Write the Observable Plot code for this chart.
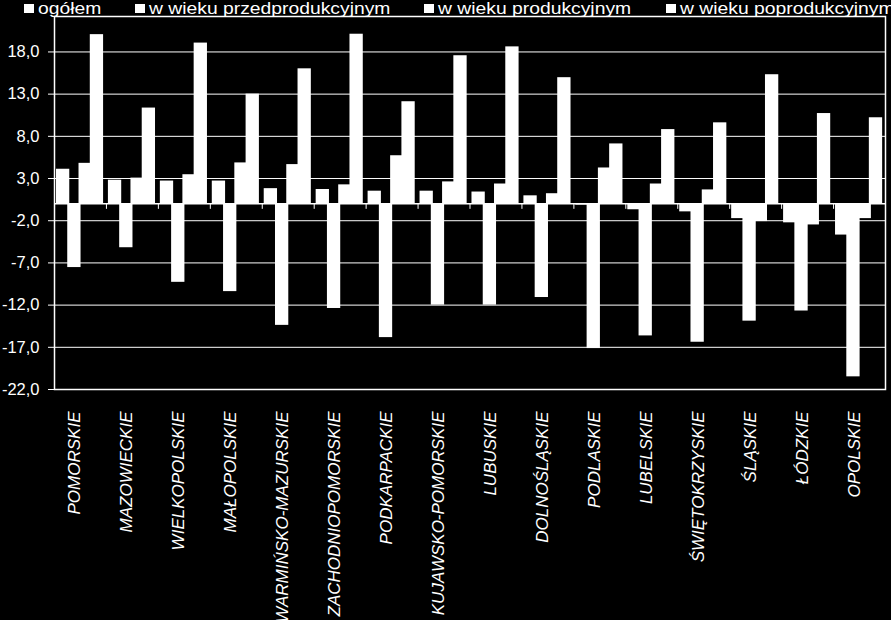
<!DOCTYPE html>
<html>
<head>
<meta charset="utf-8">
<script src="https://cdn.jsdelivr.net/npm/d3@7"></script>
<script src="https://cdn.jsdelivr.net/npm/@observablehq/plot@0.6"></script>
<style>
  html, body { margin: 0; padding: 0; background: #000; }
  #wrap { position: relative; width: 891px; height: 620px; background: #000; overflow: hidden; font-family: "Liberation Sans", Arial, sans-serif; }
  #legend { position: absolute; left: 0; top: 0; width: 891px; height: 18px; }
  .item { position: absolute; top: 0; height: 18px; color: #fff; white-space: nowrap; }
  .sw { position: absolute; top: 4px; width: 10px; height: 9px; background: #fff; }
  .lab { position: absolute; top: 0; left: 14px; font-size: 16.5px; line-height: 16px; transform: scaleX(1.17); transform-origin: left center; }
  #chart { position: absolute; left: 0; top: 0; }
</style>
</head>
<body>
<div id="wrap">
  <div id="chart"></div>
  <div id="legend"></div>
</div>
<script>
const regions = ["POMORSKIE","MAZOWIECKIE","WIELKOPOLSKIE","MAŁOPOLSKIE","WARMIŃSKO-MAZURSKIE","ZACHODNIOPOMORSKIE","PODKARPACKIE","KUJAWSKO-POMORSKIE","LUBUSKIE","DOLNOŚLĄSKIE","PODLASKIE","LUBELSKIE","ŚWIĘTOKRZYSKIE","ŚLĄSKIE","ŁÓDZKIE","OPOLSKIE"];
const seriesNames = ["ogółem","w wieku przedprodukcyjnym","w wieku produkcyjnym","w wieku poprodukcyjnym"];
const ogolem = [4.1, 2.8, 2.7, 2.7, 1.8, 1.7, 1.5, 1.5, 1.4, 0.95, -0.15, -0.7, -0.95, -1.75, -2.25, -3.7];
const przedprodukcyjny = [-7.55, -5.2, -9.3, -10.4, -14.4, -12.4, -15.85, -12.0, -12.0, -11.1, -17.15, -15.65, -16.4, -13.9, -12.7, -20.5];
const produkcyjny = [4.8, 3.05, 3.45, 4.85, 4.65, 2.25, 5.7, 2.6, 2.35, 1.2, 4.25, 2.35, 1.65, -2.1, -2.5, -1.75];
const poprodukcyjny = [20.05, 11.35, 19.05, 13.0, 16.0, 20.1, 12.1, 17.55, 18.6, 14.95, 7.1, 8.8, 9.6, 15.3, 10.7, 10.2];
const yTicks = [-22, -17, -12, -7, -2, 3, 8, 13, 18];

const seriesValues = [ogolem, przedprodukcyjny, produkcyjny, poprodukcyjny];
const data = [];
regions.forEach((r, i) => {
  seriesValues.forEach((vals, j) => {
    data.push({region: r, i, j, series: seriesNames[j], value: vals[i]});
  });
});

// layout constants within each group (group width = 1 unit on x)
const OFFSET = 0.038, STEP = 0.217, WIDTH = 0.256;
const boundaries = d3.range(1, regions.length);
const fmt = v => v.toFixed(1).replace(".", ",");

const plot = Plot.plot({
  width: 891,
  height: 620,
  marginLeft: 54,
  marginRight: 6,
  marginTop: 16,
  marginBottom: 231,
  style: {background: "black", color: "white", fontFamily: "'Liberation Sans', Arial, sans-serif"},
  x: {domain: [0, regions.length], axis: null},
  y: {domain: [-22, 22.2], axis: null},
  marks: [
    Plot.ruleY(yTicks, {stroke: "white", strokeWidth: 1}),
    Plot.rect(data, {
      x1: d => d.i + OFFSET + d.j * STEP,
      x2: d => d.i + OFFSET + d.j * STEP + WIDTH,
      y1: 0,
      y2: d => d.value,
      fill: "white"
    }),
    Plot.ruleY([0], {stroke: "white", strokeWidth: 1.5}),
    Plot.ruleX(boundaries, {y1: 0, y2: -0.65, stroke: "white", strokeWidth: 1}),
    Plot.frame({stroke: "white", strokeWidth: 1.5}),
    Plot.axisY({
      ticks: yTicks,
      tickFormat: fmt,
      tickSize: 6,
      tickPadding: 9,
      stroke: "white",
      fill: "white",
      fontSize: 16.5,
      label: null
    }),
    Plot.text(regions, {
      x: (d, i) => i + 0.5,
      frameAnchor: "bottom",
      dy: 22,
      rotate: -90,
      textAnchor: "end",
      text: d => d,
      fill: "white",
      fontSize: 17,
      fontStyle: "italic"
    })
  ]
});
document.getElementById("chart").appendChild(plot);

const legendX = [24, 135, 424, 666];
const legend = document.getElementById("legend");
seriesNames.forEach((name, k) => {
  const it = document.createElement("div");
  it.className = "item";
  it.style.left = legendX[k] + "px";
  it.innerHTML = '<div class="sw"></div><div class="lab"></div>';
  it.querySelector(".lab").textContent = name;
  legend.appendChild(it);
});
</script>
</body>
</html>
